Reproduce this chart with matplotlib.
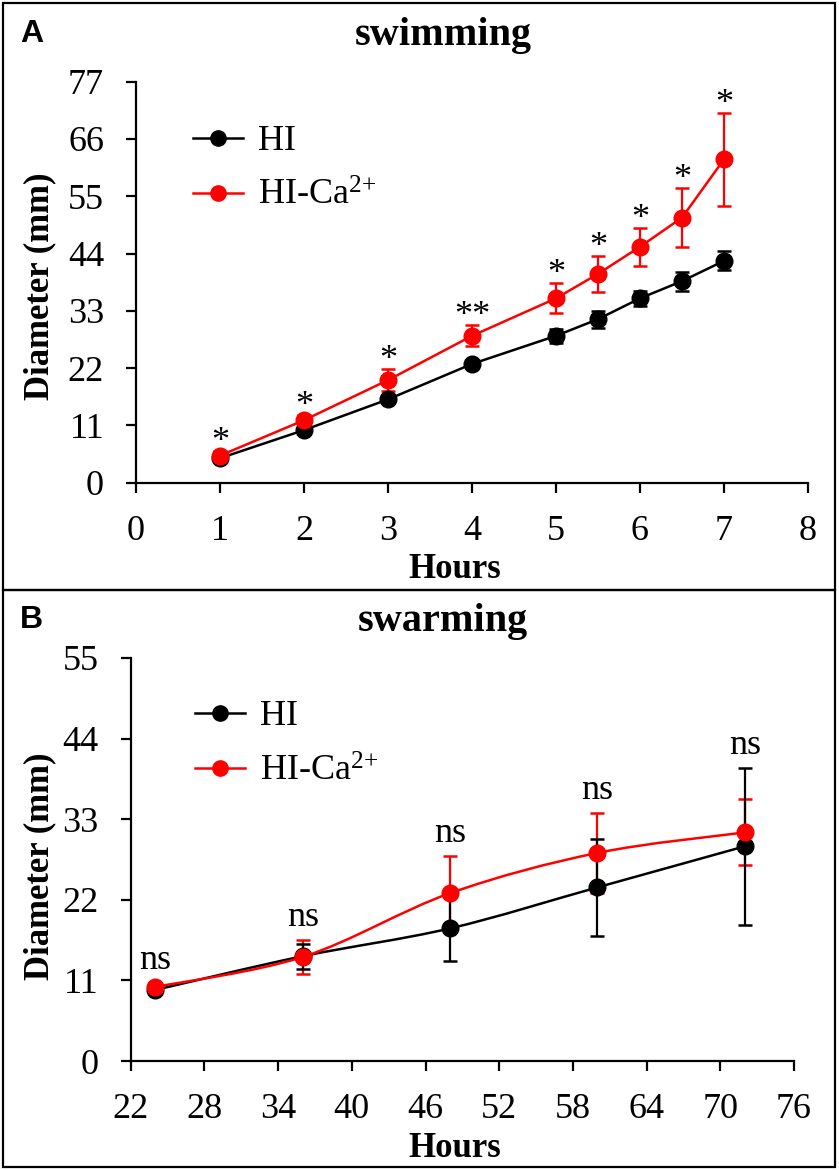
import numpy as np
import matplotlib
matplotlib.use("Agg")
import matplotlib.pyplot as plt
from matplotlib.path import Path
from matplotlib.patches import PathPatch, Rectangle
from matplotlib.lines import Line2D

plt.rcParams.update({
    "font.family": "Liberation Serif",
    "mathtext.fontset": "custom",
    "mathtext.rm": "Liberation Serif",
    "mathtext.it": "Liberation Serif:italic",
    "mathtext.bf": "Liberation Serif:bold",
})

# panel A: swimming
swim_hours = [1, 2, 3, 4, 5, 5.5, 6, 6.5, 7]
swim_hi = [4.7, 10.1, 16.0, 22.8, 28.2, 31.4, 35.4, 38.7, 42.6]
swim_hi_err = [0.5, 0.8, 0.6, 0.5, 1.4, 1.6, 1.4, 1.8, 1.8]
swim_ca = [5.2, 12.0, 19.7, 28.2, 35.4, 40.1, 45.3, 50.9, 62.1]
swim_ca_err = [0.8, 1.0, 2.1, 2.0, 2.9, 3.4, 3.7, 5.6, 8.9]
swim_sig = ["*", "*", "*", "**", "*", "*", "*", "*", "*"]
swim_xticks = [0, 1, 2, 3, 4, 5, 6, 7, 8]
swim_yticks = [0, 11, 22, 33, 44, 55, 66, 77]

# panel B: swarming
swarm_hours = [24, 36, 48, 60, 72]
swarm_hi = [9.7, 14.3, 18.1, 23.7, 29.3]
swarm_hi_err = [0.6, 1.7, 4.5, 6.6, 10.75]
swarm_ca = [10.1, 14.2, 22.9, 28.4, 31.2]
swarm_ca_err = [0.6, 2.3, 5.1, 5.5, 4.5]
swarm_sig = ["ns", "ns", "ns", "ns", "ns"]
swarm_xticks = [22, 28, 34, 40, 46, 52, 58, 64, 70, 76]
swarm_yticks = [0, 11, 22, 33, 44, 55]

LABELS = ["HI", r"HI-Ca$^{2\!+}$"]
COLORS = ["black", "#ff0000"]
W, H = 839, 1170


def smooth_path(x, y):
    """Excel-style smoothed line as cubic Bezier segments."""
    p = np.column_stack([x, y]).astype(float)
    verts = [p[0]]
    codes = [Path.MOVETO]
    n = len(p)
    for i in range(n - 1):
        p0 = p[i - 1] if i > 0 else p[i]
        p3 = p[i + 2] if i + 2 < n else p[i + 1]
        c1 = p[i] + (p[i + 1] - p0) / 6.0
        c2 = p[i + 1] - (p3 - p[i]) / 6.0
        verts += [c1, c2, p[i + 1]]
        codes += [Path.CURVE4] * 3
    return Path(verts, codes)


def draw_panel(rect, hours, series, errs, sig, xticks, yticks, sig_off, smooth):
    ax = fig.add_axes(rect)
    # error bars first (red under black), then lines/markers (black under red)
    for k in (1, 0):
        ax.errorbar(hours, series[k], yerr=errs[k], fmt="none",
                    ecolor=COLORS[k], elinewidth=1.6, capsize=5,
                    capthick=1.8, zorder=2 + (1 - k))
    for k in (0, 1):
        if smooth:
            ax.add_patch(PathPatch(smooth_path(hours, series[k]), fill=False,
                                   edgecolor=COLORS[k], lw=1.8, zorder=4 + k))
            ax.plot(hours, series[k], "o", color=COLORS[k], ms=12, zorder=4 + k)
        else:
            ax.plot(hours, series[k], "-o", color=COLORS[k], lw=1.8, ms=12,
                    zorder=4 + k)
    tops = np.maximum(np.add(series[0], errs[0]), np.add(series[1], errs[1]))
    for xv, tv, s in zip(hours, tops, sig):
        ax.annotate(s, (xv, tv), xytext=(0, sig_off), textcoords="offset points",
                    ha="center", va="baseline", fontsize=26)
    ax.set_xlim(xticks[0], xticks[-1])
    ax.set_ylim(yticks[0], yticks[-1])
    ax.set_xticks(xticks)
    ax.set_yticks(yticks)
    for s in ("top", "right"):
        ax.spines[s].set_visible(False)
    for s in ("left", "bottom"):
        ax.spines[s].set_linewidth(1.6)
    ax.tick_params(direction="out", length=7, width=1.6, labelsize=26, pad=16)
    ax.patch.set_visible(False)
    handles = [Line2D([], [], color=COLORS[k], lw=1.8, marker="o", ms=11)
               for k in (0, 1)]
    return ax, handles


fig = plt.figure(figsize=(W / 100, H / 100), dpi=100)

# panel frames
fig.add_artist(Rectangle((3 / W, 1 - 590 / H), 832 / W, 587 / H,
                         transform=fig.transFigure, fill=False, lw=1.6,
                         edgecolor="black"))
fig.add_artist(Rectangle((3 / W, 1 - 1167 / H), 832 / W, 577 / H,
                         transform=fig.transFigure, fill=False, lw=1.6,
                         edgecolor="black"))

axA, hA = draw_panel([136 / W, 1 - 482.7 / H, 672 / W, 401 / H],
                     swim_hours, [swim_hi, swim_ca], [swim_hi_err, swim_ca_err],
                     swim_sig, swim_xticks, swim_yticks, 0, False)
axB, hB = draw_panel([130.7 / W, 1 - 1061 / H, 663.3 / W, 403 / H],
                     swarm_hours, [swarm_hi, swarm_ca],
                     [swarm_hi_err, swarm_ca_err],
                     swarm_sig, swarm_xticks, swarm_yticks, 10, True)

for ax, h, anchor in ((axA, hA, (0.0848, 0.782)), (axB, hB, (0.097, 0.786))):
    ax.legend(h, LABELS, loc="center left", bbox_to_anchor=anchor,
              frameon=False, fontsize=26, handlelength=1.38,
              handletextpad=0.42, labelspacing=0.6, borderpad=0,
              borderaxespad=0)

# titles, panel letters, axis labels
fig.text(443 / W, 1 - 45 / H, "swimming", ha="center", va="baseline",
         fontsize=29, fontweight="bold")
fig.text(443 / W, 1 - 631 / H, "swarming", ha="center", va="baseline",
         fontsize=29, fontweight="bold")
fig.text(20 / W, 1 - 42 / H, "A", ha="left", va="baseline", fontsize=23,
         fontweight="bold", family="Liberation Sans")
fig.text(20 / W, 1 - 628 / H, "B", ha="left", va="baseline", fontsize=23,
         fontweight="bold", family="Liberation Sans")
for yc in (286, 866):
    fig.text(40 / W, 1 - yc / H, "Diameter (mm)", ha="center", va="center",
             rotation=90, fontsize=25, fontweight="bold")
for yb in (578, 1157):
    fig.text(455 / W, 1 - yb / H, "Hours", ha="center", va="baseline",
             fontsize=25, fontweight="bold")

fig.savefig("out.png", dpi=100)
